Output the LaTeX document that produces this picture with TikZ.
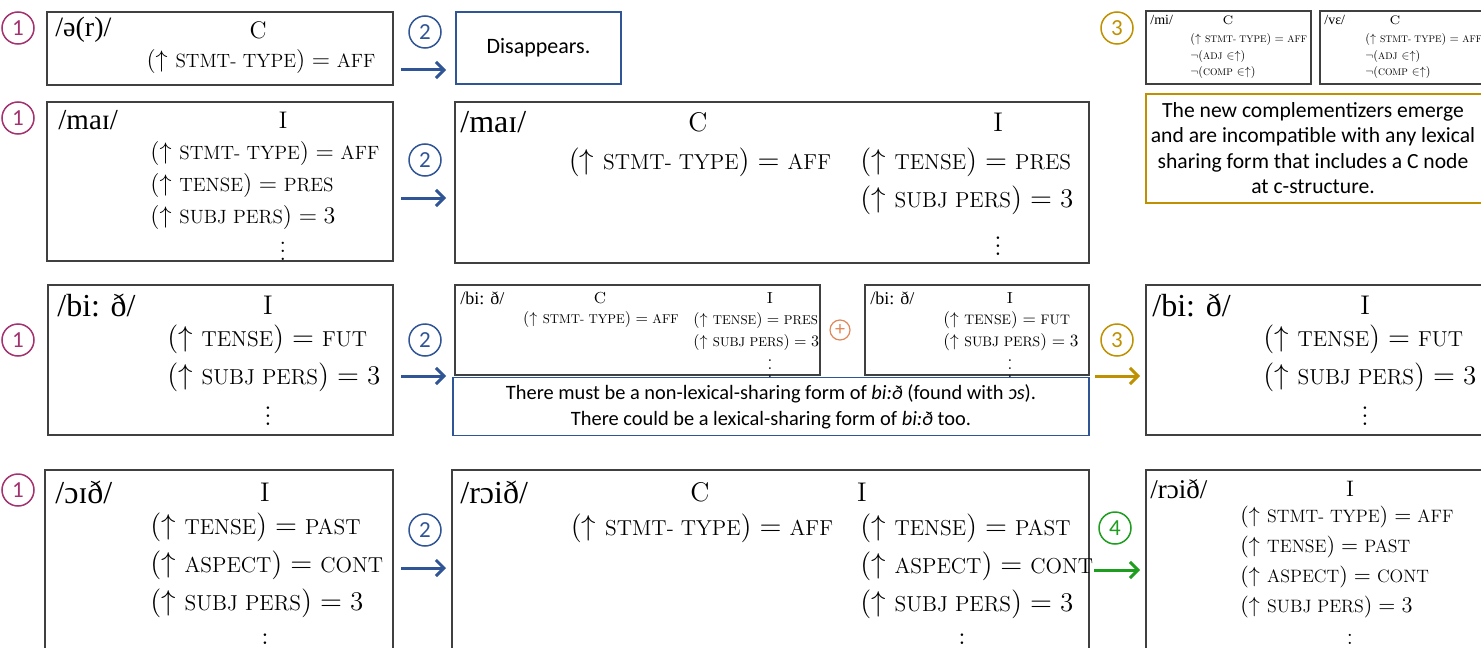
\documentclass[tikz,border=0pt]{standalone}
\usepackage{fontspec}
\usetikzlibrary{arrows.meta}
\newfontfamily\carl{Carlito}
\newfontfamily\ipa{Liberation Serif}
\definecolor{stepone}{HTML}{A3336F}
\definecolor{steptwo}{HTML}{2F5597}
\definecolor{stepthree}{HTML}{BF9000}
\definecolor{stepfour}{HTML}{1E9E1E}
\definecolor{plusor}{HTML}{E0875A}
% narrow small capitals
\newcommand{\smc}[1]{\scalebox{0.8}{\MakeUppercase{#1}}}
% (up FEATURE) = value
\newcommand{\feq}[2]{$(\uparrow$ \smc{#1}$) = \mbox{#2}$}
% negated membership constraint
\newcommand{\nfeq}[1]{$\neg($\smc{#1} $\in\uparrow)$}
% lines set at 10pt, then shrunk: {factor}{baselineskip}{lines}
\newcommand{\shrunk}[3]{\scalebox{#1}{\fontsize{10}{#2}\selectfont
  \begin{tabular}{@{}l@{}}#3\end{tabular}}}

\begin{document}
\begin{tikzpicture}[x=0.5pt, y=-0.5pt,
  lex/.style={draw=black!75, line width=0.6pt, inner sep=0pt},
  txt/.style={inner sep=0pt, anchor=west, align=left},
  cat/.style={inner sep=0pt},
  num/.style={circle, draw=#1, text=#1, line width=0.75pt, minimum size=16pt,
    inner sep=0pt, font=\carl\fontsize{11.5}{11.5}\selectfont},
  arr/.style={draw=#1, line width=1.5pt, -{Straight Barb[length=4pt,width=8pt]}},
  fbig/.style={font=\fontsize{13.5}{19}\selectfont},
  fmid/.style={font=\fontsize{12}{16}\selectfont},
  fsml/.style={font=\fontsize{8}{11}\selectfont},
  ftny/.style={font=\fontsize{6.2}{8.25}\selectfont},
  sans/.style 2 args={font=\carl\fontsize{#1}{#2}\selectfont}]
  \useasboundingbox (0,0) rectangle (1481,647);
  \clip (0,0) rectangle (1481,647);

  % Step 1 markers, left column.
  \foreach \y [count=\i] in {28,118,340,490}
    \node[num=stepone] (one\i) at (18,\y) {1};
  % Step 2 markers and arrows.
  \foreach \y/\ya [count=\i] in {32/70,160/198,340/376,530/568} {
    \node[num=steptwo] (two\i) at (425,\y) {2};
    \coordinate (ts\i) at (401,\ya);
    \coordinate (te\i) at (446,\ya);
    \draw[arr=steptwo] (ts\i) -- (te\i);
  }

  % Row 1: /ə(r)/ disappears; new complementizers.
  \node[lex, minimum width=173pt, minimum height=36.5pt] (aur) at (220,48.5) {};
  \node[txt, font=\ipa\fontsize{14}{14}\selectfont] (aurf) at (55,30) {/ə(r)/};
  \node[cat, fmid] (aurc) at (258,30) {C};
  \node[cat, fmid] (aurl) at (261,62) {\feq{stmt- type}{\smc{aff}}};
  \node[draw=steptwo, line width=0.6pt, minimum width=82.5pt, minimum height=36pt,
    sans={11}{13}] (gone) at (538.5,48) {Disappears.};

  \node[num=stepthree] (three1) at (1117,28) {3};
  \node[lex, minimum width=82.5pt, minimum height=36.5pt] (mi) at (1228.5,47.5) {};
  \node[txt, font=\ipa\fontsize{7}{7}\selectfont] (mif) at (1150,20) {/mi/};
  \node[cat, ftny] (mic) at (1228,20) {C};
  \node[txt] (mil) at (1190,56) {\shrunk{0.6}{13.7}{\feq{stmt- type}{\smc{aff}}\\
    \nfeq{adj}\\ \nfeq{comp}}};
  \node[lex, minimum width=85pt, minimum height=36.5pt] (ve) at (1405,47.5) {};
  \node[txt, font=\ipa\fontsize{7}{7}\selectfont] (vef) at (1324,20) {/vɛ/};
  \node[cat, ftny] (vec) at (1395,20) {C};
  \node[txt] (vel) at (1365,56) {\shrunk{0.6}{13.7}{\feq{stmt- type}{\smc{aff}}\\
    \nfeq{adj}\\ \nfeq{comp}}};
  \node[draw=stepthree, line width=0.6pt, minimum width=172pt, minimum height=54.5pt]
    (emerge) at (1318,148.5) {};
  \node[align=center, inner sep=0pt, sans={10.8}{12.7}] (emerget) at (1313,148)
    {The new complementizers emerge\\and are incompatible with any lexical\\
     sharing form that includes a C node\\at c-structure.};

  % Row 2: /maɪ/.
  \node[lex, minimum width=173pt, minimum height=79.5pt] (mai) at (220,181.5) {};
  \node[txt, font=\ipa\fontsize{14.5}{14.5}\selectfont] (maif) at (58,120) {/maɪ/};
  \node[cat, fmid] (maic) at (283,120) {I};
  \node[txt, fmid] (mail) at (150,185) {\feq{stmt- type}{\smc{aff}}\\
    \feq{tense}{\smc{pres}}\\ \feq{subj pers}{3}};
  \node[cat, fmid] (maid) at (283,245) {$\vdots$};

  \node[lex, minimum width=317pt, minimum height=80.5pt] (maiB) at (772,182.5) {};
  \node[txt, font=\ipa\fontsize{16}{16}\selectfont] (maiBf) at (460,122) {/maɪ/};
  \node[cat, fbig] (maiBc) at (698,122) {C};
  \node[cat, fbig] (maiBi) at (998,122) {I};
  \node[cat, fbig] (maiBa) at (700,162) {\feq{stmt- type}{\smc{aff}}};
  \node[txt, fbig] (maiBl) at (860,181) {\feq{tense}{\smc{pres}}\\ \feq{subj pers}{3}};
  \node[cat, fbig] (maiBd) at (998,240) {$\vdots$};

  % Row 3: /bi: ð/.
  \node[lex, minimum width=172.5pt, minimum height=75pt] (bi) at (220.5,360) {};
  \node[txt, font=\ipa\fontsize{16}{16}\selectfont] (bif) at (57,305) {/bi: ð/};
  \node[cat, fbig] (bic) at (268,305) {I};
  \node[txt, fbig] (bil) at (167,358.5) {\feq{tense}{\smc{fut}}\\ \feq{subj pers}{3}};
  \node[cat, fbig] (bid) at (268,410) {$\vdots$};

  \node[lex, minimum width=182.5pt, minimum height=45pt] (biS) at (637.5,330) {};
  \node[txt, font=\ipa\fontsize{9}{9}\selectfont] (biSf) at (460,298) {/bi: ð/};
  \node[cat, fsml] (biSc) at (600,298) {C};
  \node[cat, fsml] (biSi) at (770,298) {I};
  \node[cat] (biSa) at (601,320) {\shrunk{0.8}{12}{\feq{stmt- type}{\smc{aff}}}};
  \node[txt] (biSl) at (693,331) {\shrunk{0.8}{13.75}{\feq{tense}{\smc{pres}}\\
    \feq{subj pers}{3}}};
  \node[cat, fsml] (biSd) at (770,363) {$\vdots$};
  \node[circle, draw=plusor, text=plusor, line width=0.6pt, minimum size=10pt,
    inner sep=0pt, font=\carl\fontsize{10}{10}\selectfont] (plus) at (840,330) {+};
  \node[lex, minimum width=112pt, minimum height=45pt] (biN) at (977,330) {};
  \node[txt, font=\ipa\fontsize{9}{9}\selectfont] (biNf) at (870,298) {/bi: ð/};
  \node[cat, fsml] (biNi) at (1010,298) {I};
  \node[txt] (biNl) at (943,331) {\shrunk{0.86}{12.8}{\feq{tense}{\smc{fut}}\\
    \feq{subj pers}{3}}};
  \node[cat, fsml] (biNd) at (1010,363) {$\vdots$};
  \node[draw=steptwo, line width=0.6pt, minimum width=318pt, minimum height=28.5pt,
    align=center, sans={10.2}{13}] (biT) at (771,406.5)
    {There must be a non-lexical-sharing form of \textit{bi:ð} (found with \textit{ɔs}).\\
     There could be a lexical-sharing form of \textit{bi:ð} too.};

  \node[num=stepthree] (three2) at (1117,340) {3};
  \coordinate (gs) at (1095,376);
  \coordinate (ge) at (1140,376);
  \draw[arr=stepthree] (gs) -- (ge);
  \node[lex, minimum width=172pt, minimum height=75pt] (biR) at (1318,360) {};
  \node[txt, font=\ipa\fontsize{16}{16}\selectfont] (biRf) at (1152,305) {/bi: ð/};
  \node[cat, fbig] (biRc) at (1365,305) {I};
  \node[txt, fbig] (biRl) at (1263,358.5) {\feq{tense}{\smc{fut}}\\ \feq{subj pers}{3}};
  \node[cat, fbig] (biRd) at (1365,410) {$\vdots$};

  % Row 4: /ɔɪð/ becomes /rɔið/.
  \node[lex, minimum width=174pt, minimum height=95pt] (oi) at (219,565) {};
  \node[txt, font=\ipa\fontsize{16}{16}\selectfont] (oif) at (55,492) {/ɔɪð/};
  \node[cat, fbig] (oic) at (265,492) {I};
  \node[txt, fbig] (oil) at (150,565) {\feq{tense}{\smc{past}}\\
    \feq{aspect}{\smc{cont}}\\ \feq{subj pers}{3}};
  \node[cat, fbig] (oid) at (265,637) {$\vdots$};

  \node[lex, minimum width=318.5pt, minimum height=95pt] (roi) at (770.5,565) {};
  \node[txt, font=\ipa\fontsize{16}{16}\selectfont] (roif) at (460,492) {/rɔið/};
  \node[cat, fbig] (roic) at (700,492) {C};
  \node[cat, fbig] (roii) at (862,492) {I};
  \node[cat, fbig] (roia) at (702,528) {\feq{stmt- type}{\smc{aff}}};
  \node[txt, fbig] (roil) at (860,566) {\feq{tense}{\smc{past}}\\
    \feq{aspect}{\smc{cont}}\\ \feq{subj pers}{3}};
  \node[cat, fbig] (roid) at (962,637) {$\vdots$};

  \node[num=stepfour] (four) at (1115,528) {4};
  \coordinate (fs) at (1094,570);
  \coordinate (fe) at (1140,570);
  \draw[arr=stepfour] (fs) -- (fe);
  \node[lex, minimum width=172pt, minimum height=95pt] (roiR) at (1318,565) {};
  \node[txt, font=\ipa\fontsize{13.5}{13.5}\selectfont] (roiRf) at (1150,489) {/rɔið/};
  \node[cat, font=\fontsize{11.2}{15}\selectfont] (roiRc) at (1350,489) {I};
  \node[txt, font=\fontsize{11.2}{15}\selectfont] (roiRl) at (1240,562)
    {\feq{stmt- type}{\smc{aff}}\\ \feq{tense}{\smc{past}}\\
     \feq{aspect}{\smc{cont}}\\ \feq{subj pers}{3}};
  \node[cat, font=\fontsize{11.2}{15}\selectfont] (roiRd) at (1350,637) {$\vdots$};
\end{tikzpicture}
\end{document}
